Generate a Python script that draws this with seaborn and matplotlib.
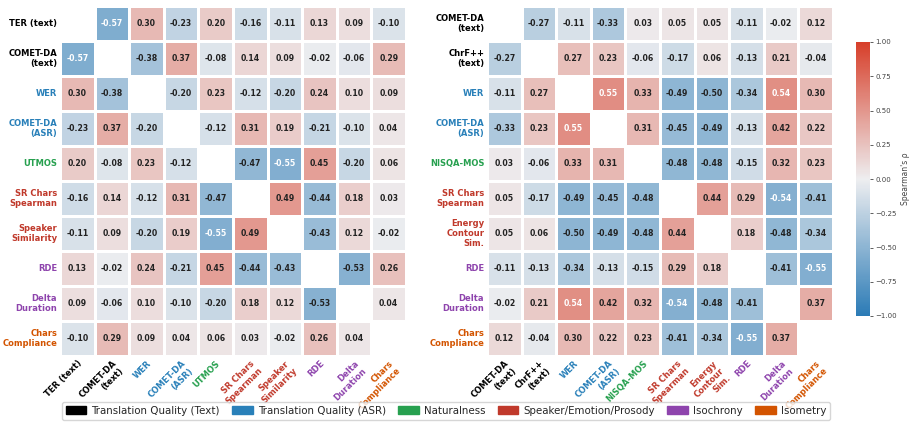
import numpy as np
import pandas as pd
import matplotlib
matplotlib.use("Agg")
import matplotlib.pyplot as plt
from matplotlib.patches import Patch
import seaborn as sns

sns.set_style("white")

# group colours
C_TXT = "#000000"
C_ASR = "#2980b9"
C_NAT = "#27a04f"
C_SPK = "#c0392b"
C_ISO = "#8e44ad"
C_MET = "#d35400"

left_labels = ["TER (text)", "COMET-DA\n(text)", "WER", "COMET-DA\n(ASR)", "UTMOS",
               "SR Chars\nSpearman", "Speaker\nSimilarity", "RDE", "Delta\nDuration",
               "Chars\nCompliance"]
left_colors = [C_TXT, C_TXT, C_ASR, C_ASR, C_NAT, C_SPK, C_SPK, C_ISO, C_ISO, C_MET]
left_vals = [
    [np.nan, -0.57, 0.30, -0.23, 0.20, -0.16, -0.11, 0.13, 0.09, -0.10],
    [-0.57, np.nan, -0.38, 0.37, -0.08, 0.14, 0.09, -0.02, -0.06, 0.29],
    [0.30, -0.38, np.nan, -0.20, 0.23, -0.12, -0.20, 0.24, 0.10, 0.09],
    [-0.23, 0.37, -0.20, np.nan, -0.12, 0.31, 0.19, -0.21, -0.10, 0.04],
    [0.20, -0.08, 0.23, -0.12, np.nan, -0.47, -0.55, 0.45, -0.20, 0.06],
    [-0.16, 0.14, -0.12, 0.31, -0.47, np.nan, 0.49, -0.44, 0.18, 0.03],
    [-0.11, 0.09, -0.20, 0.19, -0.55, 0.49, np.nan, -0.43, 0.12, -0.02],
    [0.13, -0.02, 0.24, -0.21, 0.45, -0.44, -0.43, np.nan, -0.53, 0.26],
    [0.09, -0.06, 0.10, -0.10, -0.20, 0.18, 0.12, -0.53, np.nan, 0.04],
    [-0.10, 0.29, 0.09, 0.04, 0.06, 0.03, -0.02, 0.26, 0.04, np.nan],
]

right_labels = ["COMET-DA\n(text)", "ChrF++\n(text)", "WER", "COMET-DA\n(ASR)", "NISQA-MOS",
                "SR Chars\nSpearman", "Energy\nContour\nSim.", "RDE", "Delta\nDuration",
                "Chars\nCompliance"]
right_colors = [C_TXT, C_TXT, C_ASR, C_ASR, C_NAT, C_SPK, C_SPK, C_ISO, C_ISO, C_MET]
right_vals = [
    [np.nan, -0.27, -0.11, -0.33, 0.03, 0.05, 0.05, -0.11, -0.02, 0.12],
    [-0.27, np.nan, 0.27, 0.23, -0.06, -0.17, 0.06, -0.13, 0.21, -0.04],
    [-0.11, 0.27, np.nan, 0.55, 0.33, -0.49, -0.50, -0.34, 0.54, 0.30],
    [-0.33, 0.23, 0.55, np.nan, 0.31, -0.45, -0.49, -0.13, 0.42, 0.22],
    [0.03, -0.06, 0.33, 0.31, np.nan, -0.48, -0.48, -0.15, 0.32, 0.23],
    [0.05, -0.17, -0.49, -0.45, -0.48, np.nan, 0.44, 0.29, -0.54, -0.41],
    [0.05, 0.06, -0.50, -0.49, -0.48, 0.44, np.nan, 0.18, -0.48, -0.34],
    [-0.11, -0.13, -0.34, -0.13, -0.15, 0.29, 0.18, np.nan, -0.41, -0.55],
    [-0.02, 0.21, 0.54, 0.42, 0.32, -0.54, -0.48, -0.41, np.nan, 0.37],
    [0.12, -0.04, 0.30, 0.22, 0.23, -0.41, -0.34, -0.55, 0.37, np.nan],
]

legend_names = ["Translation Quality (Text)", "Translation Quality (ASR)", "Naturalness",
                "Speaker/Emotion/Prosody", "Isochrony", "Isometry"]
legend_colors = [C_TXT, C_ASR, C_NAT, C_SPK, C_ISO, C_MET]

cmap = sns.blend_palette(["#2b7bb6", "#eeeef0", "#d73f2a"], as_cmap=True)

fig = plt.figure(figsize=(9.1, 4.28), dpi=100)
ax1 = fig.add_axes([60 / 910, 1 - 356 / 428, 346 / 910, 350 / 428])
ax2 = fig.add_axes([487 / 910, 1 - 356 / 428, 346 / 910, 350 / 428])
cax = fig.add_axes([856 / 910, 1 - 316 / 428, 14 / 910, 274 / 428])


def draw(ax, vals, labels, colors, cbar):
    df = pd.DataFrame(vals, index=labels, columns=labels)
    mask = df.isna()
    sns.heatmap(df, ax=ax, mask=mask, cmap=cmap, vmin=-1, vmax=1, center=0,
                linewidths=1, linecolor="white", square=False,
                cbar=cbar, cbar_ax=cax if cbar else None,
                cbar_kws={"label": "Spearman's ρ"} if cbar else None,
                annot=False)
    for i in range(len(labels)):
        for j in range(len(labels)):
            v = vals[i][j]
            if np.isnan(v):
                continue
            col = "white" if abs(v) >= 0.54 else "#222222"
            ax.text(j + 0.5, i + 0.5, f"{v:.2f}", ha="center", va="center",
                    fontsize=5.6, fontweight="bold", color=col)
    ax.set_xticklabels(labels, rotation=45, ha="right", rotation_mode="anchor",
                       fontsize=6, fontweight="bold")
    ax.set_yticklabels(labels, rotation=0, fontsize=6, fontweight="bold")
    for t, c in zip(ax.get_xticklabels(), colors):
        t.set_color(c)
    for t, c in zip(ax.get_yticklabels(), colors):
        t.set_color(c)
        t.set_multialignment("right")
    ax.tick_params(length=0, pad=2)
    ax.set_xlabel("")
    ax.set_ylabel("")


draw(ax1, left_vals, left_labels, left_colors, False)
draw(ax2, right_vals, right_labels, right_colors, True)

cax.tick_params(labelsize=5, length=2.5, width=0.6, pad=1.5, colors="#444444")
cax.set_yticks(np.arange(-1, 1.01, 0.25))
cax.set_yticklabels([f"{t:.2f}".replace("-", "\u2212") for t in np.arange(-1, 1.01, 0.25)])
cax.set_ylabel("Spearman's ρ", fontsize=5.5, color="#444444", labelpad=3)

handles = [Patch(facecolor=c, edgecolor=c, label=n) for n, c in zip(legend_names, legend_colors)]
fig.legend(handles=handles, loc="center", bbox_to_anchor=(446 / 910, 1 - 411 / 428),
           ncol=6, fontsize=7.4, frameon=True, handlelength=2.0, handleheight=0.8,
           columnspacing=1.2, handletextpad=0.5, borderpad=0.35)

fig.savefig("out.png", dpi=100)
